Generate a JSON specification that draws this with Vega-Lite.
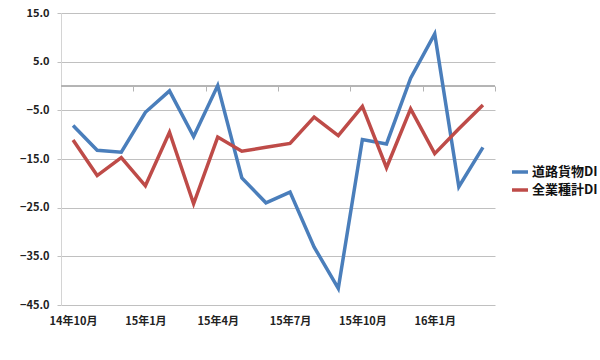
{
  "$schema": "https://vega.github.io/schema/vega-lite/v6.json",
  "autosize": {"type": "none"},
  "width": 434,
  "height": 292,
  "padding": {"left": 61, "top": 13, "right": 105, "bottom": 55},
  "background": "white",
  "config": {
    "view": {"stroke": null},
    "font": "Noto Sans CJK JP",
    "axis": {"labelFont": "Noto Sans CJK JP", "labelFontWeight": "bold", "labelColor": "#222222"},
    "legend": {"labelFont": "Noto Sans CJK JP"}
  },
  "data": {
    "values": [
      {"i": 0, "month": "14年10月", "series": "道路貨物DI", "value": -8.1},
      {"i": 1, "month": "14年11月", "series": "道路貨物DI", "value": -13.2},
      {"i": 2, "month": "14年12月", "series": "道路貨物DI", "value": -13.6},
      {"i": 3, "month": "15年1月", "series": "道路貨物DI", "value": -5.4},
      {"i": 4, "month": "15年2月", "series": "道路貨物DI", "value": -1.0},
      {"i": 5, "month": "15年3月", "series": "道路貨物DI", "value": -10.4},
      {"i": 6, "month": "15年4月", "series": "道路貨物DI", "value": 0.1},
      {"i": 7, "month": "15年5月", "series": "道路貨物DI", "value": -18.9},
      {"i": 8, "month": "15年6月", "series": "道路貨物DI", "value": -24.0},
      {"i": 9, "month": "15年7月", "series": "道路貨物DI", "value": -21.8},
      {"i": 10, "month": "15年8月", "series": "道路貨物DI", "value": -33.1},
      {"i": 11, "month": "15年9月", "series": "道路貨物DI", "value": -41.6},
      {"i": 12, "month": "15年10月", "series": "道路貨物DI", "value": -11.0},
      {"i": 13, "month": "15年11月", "series": "道路貨物DI", "value": -11.9},
      {"i": 14, "month": "15年12月", "series": "道路貨物DI", "value": 1.6},
      {"i": 15, "month": "16年1月", "series": "道路貨物DI", "value": 10.7},
      {"i": 16, "month": "16年2月", "series": "道路貨物DI", "value": -20.7},
      {"i": 17, "month": "16年3月", "series": "道路貨物DI", "value": -12.6},
      {"i": 0, "month": "14年10月", "series": "全業種計DI", "value": -11.1},
      {"i": 1, "month": "14年11月", "series": "全業種計DI", "value": -18.4},
      {"i": 2, "month": "14年12月", "series": "全業種計DI", "value": -14.7},
      {"i": 3, "month": "15年1月", "series": "全業種計DI", "value": -20.5},
      {"i": 4, "month": "15年2月", "series": "全業種計DI", "value": -9.5},
      {"i": 5, "month": "15年3月", "series": "全業種計DI", "value": -24.2},
      {"i": 6, "month": "15年4月", "series": "全業種計DI", "value": -10.5},
      {"i": 7, "month": "15年5月", "series": "全業種計DI", "value": -13.4},
      {"i": 8, "month": "15年6月", "series": "全業種計DI", "value": -12.6},
      {"i": 9, "month": "15年7月", "series": "全業種計DI", "value": -11.8},
      {"i": 10, "month": "15年8月", "series": "全業種計DI", "value": -6.4},
      {"i": 11, "month": "15年9月", "series": "全業種計DI", "value": -10.2},
      {"i": 12, "month": "15年10月", "series": "全業種計DI", "value": -4.2},
      {"i": 13, "month": "15年11月", "series": "全業種計DI", "value": -16.8},
      {"i": 14, "month": "15年12月", "series": "全業種計DI", "value": -4.7},
      {"i": 15, "month": "16年1月", "series": "全業種計DI", "value": -13.9},
      {"i": 16, "month": "16年2月", "series": "全業種計DI", "value": -8.8},
      {"i": 17, "month": "16年3月", "series": "全業種計DI", "value": -3.9}
    ]
  },
  "layer": [
    {
      "mark": {"type": "rule", "color": "#b4b4b4", "strokeWidth": 1},
      "encoding": {
        "x": {
          "datum": -0.5,
          "type": "quantitative",
          "scale": {"domain": [-0.5, 17.5], "nice": false, "zero": false},
          "axis": {
            "orient": "bottom",
            "offset": -219,
            "values": [2.5, 5.5, 8.5, 11.5, 14.5, 17.5],
            "labels": false,
            "domain": false,
            "grid": false,
            "ticks": true,
            "tickSize": 5,
            "tickColor": "#b4b4b4",
            "title": null
          }
        },
        "x2": {"datum": 17.5},
        "y": {"datum": 0, "type": "quantitative"}
      }
    },
    {
      "mark": {"type": "line", "strokeWidth": 3.5, "strokeJoin": "miter", "strokeCap": "butt"},
      "encoding": {
        "x": {
          "field": "i",
          "type": "quantitative",
          "scale": {"domain": [-0.5, 17.5], "nice": false, "zero": false},
          "axis": {
            "orient": "bottom",
            "values": [0, 3, 6, 9, 12, 15],
            "labelExpr": "['14年10月','14年11月','14年12月','15年1月','15年2月','15年3月','15年4月','15年5月','15年6月','15年7月','15年8月','15年9月','15年10月','15年11月','15年12月','16年1月','16年2月','16年3月'][datum.value]",
            "labelFontSize": 11,
            "labelPadding": 10,
            "ticks": false,
            "domain": false,
            "grid": false,
            "title": null
          }
        },
        "y": {
          "field": "value",
          "type": "quantitative",
          "scale": {"domain": [-45, 15], "nice": false, "zero": false},
          "axis": {
            "values": [15, 5, -5, -15, -25, -35, -45],
            "format": ".1f",
            "labelFontSize": 11,
            "labelPadding": 8,
            "tickSize": 4,
            "tickColor": "#c0c0c0",
            "gridColor": "#c0c0c0",
            "domainColor": "#d4d4d4",
            "grid": true,
            "title": null
          }
        },
        "color": {
          "field": "series",
          "type": "nominal",
          "sort": ["道路貨物DI", "全業種計DI"],
          "scale": {"domain": ["道路貨物DI", "全業種計DI"], "range": ["#4A7EBB", "#BE4B48"]},
          "legend": {
            "orient": "none",
            "legendX": 449,
            "legendY": 149,
            "title": null,
            "padding": 0,
            "symbolType": "stroke",
            "symbolSize": 256,
            "symbolStrokeWidth": 3.5,
            "labelFontSize": 13,
            "labelFontWeight": "bold",
            "labelColor": "#111111",
            "labelOffset": 2,
            "rowPadding": 1
          }
        }
      }
    }
  ],
  "resolve": {"axis": {"x": "independent"}}
}
